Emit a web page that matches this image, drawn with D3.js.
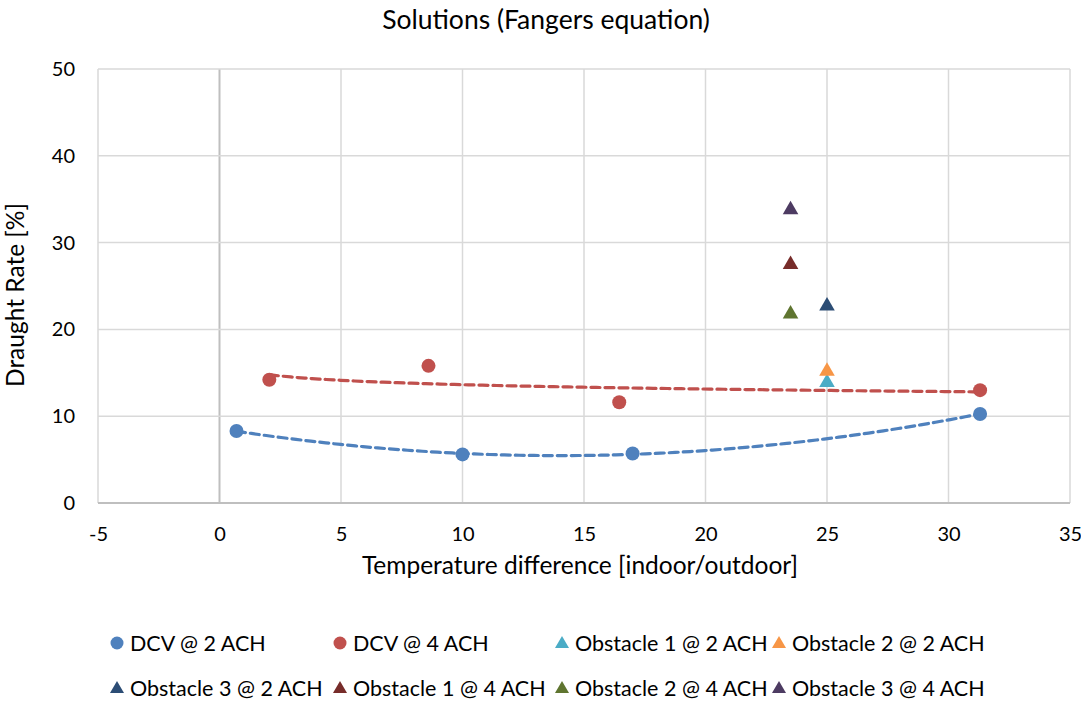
<!DOCTYPE html>
<html><head><meta charset="utf-8">
<script src="https://cdn.jsdelivr.net/npm/d3@7/dist/d3.min.js"></script>
<style>body{margin:0;background:#fff}svg{display:block}text{font-family:Lato,"Open Sans",sans-serif;fill:#000}</style>
</head><body>
<svg id="c" width="1081" height="702"></svg>
<script>
const title = "Solutions (Fangers equation)";
const xTitle = "Temperature difference [indoor/outdoor]";
const yTitle = "Draught Rate [%]";
const xTicks = [-5,0,5,10,15,20,25,30,35];
const yTicks = [0,10,20,30,40,50];

const dcv2X = [0.7, 10, 17, 31.3];
const dcv2Y = [8.3, 5.6, 5.7, 10.25];
const dcv4X = [2.05, 8.6, 16.45, 31.3];
const dcv4Y = [14.2, 15.8, 11.6, 13.0];

const obstacleNames = ["Obstacle 1 @ 2 ACH","Obstacle 2 @ 2 ACH","Obstacle 3 @ 2 ACH","Obstacle 1 @ 4 ACH","Obstacle 2 @ 4 ACH","Obstacle 3 @ 4 ACH"];
const obstacleX = [25, 25, 25, 23.5, 23.5, 23.5];
const obstacleY = [14.0, 15.3, 22.8, 27.6, 21.9, 33.9];
const obstacleColors = ["#4bacc6","#f79646","#2c4d75","#772c2a","#5f7530","#4d3b62"];
const dcvNames = ["DCV @ 2 ACH","DCV @ 4 ACH"];
const dcvColors = ["#4f81bd","#c0504d"];

const svg = d3.select("#c");
const x = d3.scaleLinear().domain([-5,35]).range([98,1070]);
const y = d3.scaleLinear().domain([0,50]).range([503,69]);

// gridlines
svg.append("g").selectAll("line").data(xTicks).join("line")
  .attr("x1",d=>x(d)).attr("x2",d=>x(d)).attr("y1",y(0)).attr("y2",y(50))
  .attr("stroke",d=>d===0?"#bfbfbf":"#d9d9d9").attr("stroke-width",d=>d===0?2:1.5);
svg.append("g").selectAll("line").data(yTicks).join("line")
  .attr("x1",x(-5)).attr("x2",x(35)).attr("y1",d=>y(d)).attr("y2",d=>y(d))
  .attr("stroke",d=>d===0?"#bfbfbf":"#d9d9d9").attr("stroke-width",d=>d===0?2:1.5);

// axes (labels only)
const xa = svg.append("g").attr("transform",`translate(0,${y(0)})`)
  .call(d3.axisBottom(x).tickValues(xTicks).tickSize(0).tickPadding(24).tickFormat(d=>String(d)));
xa.select(".domain").remove();
xa.selectAll("text").style("font-size","20px").style("font-family","Lato,sans-serif").attr("fill","#000");
const ya = svg.append("g").attr("transform",`translate(${x(-5)},0)`)
  .call(d3.axisLeft(y).tickValues(yTicks).tickSize(0).tickPadding(23).tickFormat(d=>String(d)));
ya.select(".domain").remove();
ya.selectAll("text").style("font-size","20px").style("font-family","Lato,sans-serif").attr("fill","#000");

// titles
svg.append("text").attr("x",546).attr("y",29).attr("text-anchor","middle").style("font-size","26.5px").text(title);
svg.append("text").attr("x",580).attr("y",574).attr("text-anchor","middle").style("font-size","24.5px").text(xTitle);
svg.append("text").attr("transform",`translate(24,295) rotate(-90)`).attr("text-anchor","middle").style("font-size","24.5px").text(yTitle);

// trendlines
function polyFit2(xs, ys){
  let S=[0,0,0,0,0], T=[0,0,0];
  xs.forEach((xv,i)=>{ for(let k=0;k<5;k++) S[k]+=Math.pow(xv,k); for(let k=0;k<3;k++) T[k]+=ys[i]*Math.pow(xv,k); });
  const M=[[S[0],S[1],S[2],T[0]],[S[1],S[2],S[3],T[1]],[S[2],S[3],S[4],T[2]]];
  for(let i=0;i<3;i++){ for(let j=i+1;j<3;j++){ const f=M[j][i]/M[i][i]; for(let k=i;k<4;k++) M[j][k]-=f*M[i][k]; } }
  const r=[0,0,0];
  for(let i=2;i>=0;i--){ let s=M[i][3]; for(let k=i+1;k<3;k++) s-=M[i][k]*r[k]; r[i]=s/M[i][i]; }
  return v=>r[0]+r[1]*v+r[2]*v*v;
}
function logFit(xs, ys){
  const lx = xs.map(Math.log);
  const mx=d3.mean(lx), my=d3.mean(ys);
  let sxy=0,sxx=0; lx.forEach((v,i)=>{sxy+=(v-mx)*(ys[i]-my); sxx+=(v-mx)*(v-mx);});
  const b=sxy/sxx, a=my-b*mx;
  return v=>a+b*Math.log(v);
}
function trend(f, xs, color){
  const x0=d3.min(xs), x1=d3.max(xs);
  const pts=d3.range(0,101).map(i=>{const v=x0+(x1-x0)*i/100; return [v,f(v)];});
  svg.append("path").datum(pts)
    .attr("d",d3.line().x(d=>x(d[0])).y(d=>y(d[1])))
    .attr("fill","none").attr("stroke",color).attr("stroke-width",3.2)
    .attr("stroke-dasharray","9,5").attr("stroke-linecap","round");
}
trend(polyFit2(dcv2X,dcv2Y), dcv2X, dcvColors[0]);
trend(logFit(dcv4X,dcv4Y), dcv4X, dcvColors[1]);

// points
const tri = d3.symbol().type(d3.symbolTriangle).size(105);
function circles(xs, ys, color){
  svg.append("g").selectAll("circle").data(xs.map((v,i)=>[v,ys[i]])).join("circle")
    .attr("cx",d=>x(d[0])).attr("cy",d=>y(d[1])).attr("r",7).attr("fill",color);
}
circles(dcv2X,dcv2Y,dcvColors[0]);
circles(dcv4X,dcv4Y,dcvColors[1]);
svg.append("g").selectAll("path").data(obstacleX.map((v,i)=>({x:v,y:obstacleY[i],c:obstacleColors[i]}))).join("path")
  .attr("d",tri).attr("transform",d=>`translate(${x(d.x)},${y(d.y)+1})`).attr("fill",d=>d.c);

// legend
const legendItems = [
  {n:dcvNames[0],c:dcvColors[0],t:"circle"},
  {n:dcvNames[1],c:dcvColors[1],t:"circle"},
  {n:obstacleNames[0],c:obstacleColors[0],t:"tri"},
  {n:obstacleNames[1],c:obstacleColors[1],t:"tri"},
  {n:obstacleNames[2],c:obstacleColors[2],t:"tri"},
  {n:obstacleNames[3],c:obstacleColors[3],t:"tri"},
  {n:obstacleNames[4],c:obstacleColors[4],t:"tri"},
  {n:obstacleNames[5],c:obstacleColors[5],t:"tri"}
];
const colX=[117,340,562,779], rowY=[643,688];
const lg = svg.append("g").selectAll("g").data(legendItems).join("g")
  .attr("transform",(d,i)=>`translate(${colX[i%4]},${rowY[Math.floor(i/4)]})`);
lg.filter(d=>d.t==="circle").append("circle").attr("r",6.5).attr("fill",d=>d.c);
lg.filter(d=>d.t==="tri").append("path").attr("d",d3.symbol().type(d3.symbolTriangle).size(85)).attr("transform","translate(0,1)").attr("fill",d=>d.c);
lg.append("text").attr("x",13).attr("dy","0.35em").style("font-size","21.5px").text(d=>d.n);
</script>
</body></html>
